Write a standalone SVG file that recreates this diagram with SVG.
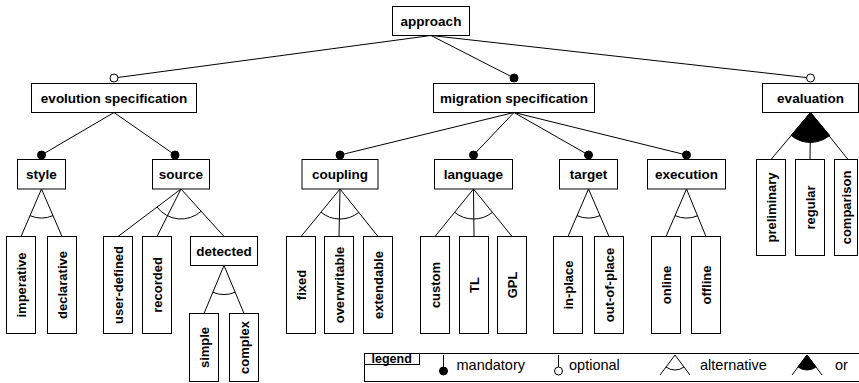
<svg xmlns="http://www.w3.org/2000/svg" width="859" height="383" viewBox="0 0 859 383">
<style>
.box{fill:#fff;stroke:#000;stroke-width:1}
.t{font-family:"Liberation Sans",Arial,sans-serif;font-weight:bold;font-size:13.5px;text-anchor:middle;fill:#000}
.v{font-family:"Liberation Sans",Arial,sans-serif;font-weight:bold;font-size:13px;text-anchor:middle;fill:#000}
.lg{font-family:"Liberation Sans",Arial,sans-serif;font-size:14.5px;fill:#000}
.ln{stroke:#000;stroke-width:1;fill:none}
.dot{fill:#000;stroke:#000;stroke-width:1}
.opt{fill:#fff;stroke:#000;stroke-width:1}
.orf{fill:#000;stroke:#000;stroke-width:1}
</style>
<rect width="859" height="383" fill="#fff"/>
<g id="connectors">
<line class="ln" x1="431" y1="35.5" x2="114" y2="78"/>
<line class="ln" x1="431" y1="35.5" x2="514" y2="78"/>
<line class="ln" x1="431" y1="35.5" x2="810.5" y2="78"/>
<line class="ln" x1="114" y1="112.5" x2="41.5" y2="155"/>
<line class="ln" x1="114" y1="112.5" x2="175" y2="155"/>
<line class="ln" x1="514" y1="112.5" x2="340" y2="155"/>
<line class="ln" x1="514" y1="112.5" x2="473.5" y2="155"/>
<line class="ln" x1="514" y1="112.5" x2="588.5" y2="155"/>
<line class="ln" x1="514" y1="112.5" x2="686.5" y2="155"/>
<circle class="opt" cx="114" cy="78" r="4"/>
<circle class="dot" cx="514" cy="78" r="4"/>
<circle class="opt" cx="810.5" cy="78" r="4"/>
<circle class="dot" cx="41.5" cy="155" r="4"/>
<circle class="dot" cx="175" cy="155" r="4"/>
<circle class="dot" cx="340" cy="155" r="4"/>
<circle class="dot" cx="473.5" cy="155" r="4"/>
<circle class="dot" cx="588.5" cy="155" r="4"/>
<circle class="dot" cx="686.5" cy="155" r="4"/>
<path class="ln" d="M21,236.5 L41.5,189 L62,236.5"/>
<path class="ln" d="M30.01,215.63 A29,29 0 0 0 52.99,215.63"/>
<path class="ln" d="M118,236.5 L181,189 L224,236.5 M181,189 L157,236.5"/>
<path class="ln" d="M157.05,207.06 A30,30 0 0 0 201.13,211.24"/>
<path class="ln" d="M204,313.5 L224,265.5 L244,313.5"/>
<path class="ln" d="M212.85,292.27 A29,29 0 0 0 235.15,292.27"/>
<path class="ln" d="M301,236.5 L340,189 L378,236.5 M340,189 L339,236.5"/>
<path class="ln" d="M320.96,212.19 A30,30 0 0 0 358.74,212.43"/>
<path class="ln" d="M435,236.5 L473.5,189 L512,236.5 M473.5,189 L474,236.5"/>
<path class="ln" d="M454.61,212.31 A30,30 0 0 0 492.39,212.31"/>
<path class="ln" d="M568,236.5 L588.5,189 L609,236.5"/>
<path class="ln" d="M577.01,215.63 A29,29 0 0 0 599.99,215.63"/>
<path class="ln" d="M666,236.5 L686.5,189 L706,236.5"/>
<path class="ln" d="M675.01,215.63 A29,29 0 0 0 697.51,215.83"/>
<path class="ln" d="M771,159.5 L810.5,112.5 L848,159.5 M810.5,112.5 L810,159.5"/>
<path class="orf" d="M810.5,112.5 L791.2,135.47 A30,30 0 0 0 829.7,135.4 Z"/>
</g>
<g id="approach"><rect class="box" x="392.5" y="6.5" width="77" height="29"/><text class="t" x="431" y="25.5">approach</text></g>
<g id="evolution-specification"><rect class="box" x="31.5" y="83.5" width="165" height="29"/><text class="t" x="114" y="102.5">evolution specification</text></g>
<g id="migration-specification"><rect class="box" x="433.5" y="83.5" width="161" height="29"/><text class="t" x="514" y="102.5">migration specification</text></g>
<g id="evaluation"><rect class="box" x="762.5" y="83.5" width="96" height="29"/><text class="t" x="810.5" y="102.5">evaluation</text></g>
<g id="style"><rect class="box" x="17.5" y="159.5" width="48" height="29.5"/><text class="t" x="41.5" y="178.5">style</text></g>
<g id="source"><rect class="box" x="152.5" y="159.5" width="57" height="29.5"/><text class="t" x="181" y="178.5">source</text></g>
<g id="coupling"><rect class="box" x="302" y="159.5" width="76" height="29.5"/><text class="t" x="340" y="178.5">coupling</text></g>
<g id="language"><rect class="box" x="434.5" y="159.5" width="78" height="29.5"/><text class="t" x="473.5" y="178.5">language</text></g>
<g id="target"><rect class="box" x="559.5" y="159.5" width="58" height="29.5"/><text class="t" x="588.5" y="178.5">target</text></g>
<g id="execution"><rect class="box" x="647.5" y="159.5" width="78" height="29.5"/><text class="t" x="686.5" y="178.5">execution</text></g>
<g id="detected"><rect class="box" x="190.5" y="236.5" width="67" height="29"/><text class="t" x="224" y="255.5">detected</text></g>
<g id="imperative"><rect class="box" x="6.5" y="236.5" width="29" height="97"/><text class="v" transform="translate(21,285) rotate(-90)" y="4.6">imperative</text></g>
<g id="declarative"><rect class="box" x="47.5" y="236.5" width="29" height="97"/><text class="v" transform="translate(62,285) rotate(-90)" y="4.6">declarative</text></g>
<g id="user-defined"><rect class="box" x="103.5" y="236.5" width="29" height="97"/><text class="v" transform="translate(118,285) rotate(-90)" y="4.6">user-defined</text></g>
<g id="recorded"><rect class="box" x="142.5" y="236.5" width="29" height="97"/><text class="v" transform="translate(157,285) rotate(-90)" y="4.6">recorded</text></g>
<g id="simple"><rect class="box" x="189.5" y="313.5" width="29" height="68"/><text class="v" transform="translate(204,347.5) rotate(-90)" y="4.6">simple</text></g>
<g id="complex"><rect class="box" x="229.5" y="313.5" width="29" height="68"/><text class="v" transform="translate(244,347.5) rotate(-90)" y="4.6">complex</text></g>
<g id="fixed"><rect class="box" x="286.5" y="236.5" width="29" height="97"/><text class="v" transform="translate(301,285) rotate(-90)" y="4.6">fixed</text></g>
<g id="overwritable"><rect class="box" x="324.5" y="236.5" width="29" height="97"/><text class="v" transform="translate(339,285) rotate(-90)" y="4.6">overwritable</text></g>
<g id="extendable"><rect class="box" x="363.5" y="236.5" width="29" height="97"/><text class="v" transform="translate(378,285) rotate(-90)" y="4.6">extendable</text></g>
<g id="custom"><rect class="box" x="420.5" y="236.5" width="29" height="97"/><text class="v" transform="translate(435,285) rotate(-90)" y="4.6">custom</text></g>
<g id="TL"><rect class="box" x="459.5" y="236.5" width="29" height="97"/><text class="v" transform="translate(474,285) rotate(-90)" y="4.6">TL</text></g>
<g id="GPL"><rect class="box" x="497.5" y="236.5" width="29" height="97"/><text class="v" transform="translate(512,285) rotate(-90)" y="4.6">GPL</text></g>
<g id="in-place"><rect class="box" x="553.5" y="236.5" width="29" height="97"/><text class="v" transform="translate(568,285) rotate(-90)" y="4.6">in-place</text></g>
<g id="out-of-place"><rect class="box" x="594.5" y="236.5" width="29" height="97"/><text class="v" transform="translate(609,285) rotate(-90)" y="4.6">out-of-place</text></g>
<g id="online"><rect class="box" x="651.5" y="236.5" width="29" height="97"/><text class="v" transform="translate(666,285) rotate(-90)" y="4.6">online</text></g>
<g id="offline"><rect class="box" x="691.5" y="236.5" width="29" height="97"/><text class="v" transform="translate(706,285) rotate(-90)" y="4.6">offline</text></g>
<g id="preliminary"><rect class="box" x="756.5" y="159.5" width="29" height="96"/><text class="v" transform="translate(771,207.5) rotate(-90)" y="4.6">preliminary</text></g>
<g id="regular"><rect class="box" x="795.5" y="159.5" width="29" height="96"/><text class="v" transform="translate(810,207.5) rotate(-90)" y="4.6">regular</text></g>
<g id="comparison"><rect class="box" x="834.5" y="159.5" width="23" height="96"/><text class="v" transform="translate(846.5,207.5) rotate(-90)" y="4.6">comparison</text></g>
<g id="legend">
<rect class="box" x="364.5" y="353.5" width="510" height="28"/>
<rect class="box" x="364.5" y="353.5" width="55" height="11"/>
<text x="371.5" y="362.5" style="font-family:'Liberation Sans',Arial,sans-serif;font-weight:bold;font-size:12.5px">legend</text>
<line class="ln" x1="443.5" y1="355" x2="443.5" y2="371"/>
<circle class="dot" cx="443.5" cy="371" r="4"/>
<text class="lg" x="456.5" y="369.5">mandatory</text>
<line class="ln" x1="558.5" y1="355" x2="558.5" y2="367"/>
<circle class="opt" cx="558.5" cy="371" r="4"/>
<text class="lg" x="569" y="369.5">optional</text>
<path class="ln" d="M660,375 L675,355 L690,375"/>
<path class="ln" d="M666,367 A15,15 0 0 0 684,367"/>
<text class="lg" x="700" y="369.5">alternative</text>
<path class="ln" d="M792,375 L807,355 L822,375"/>
<path class="orf" d="M807,355 L798,367 A15,15 0 0 0 816,367 Z"/>
<text class="lg" x="835" y="369.5">or</text>
</g>
</svg>
